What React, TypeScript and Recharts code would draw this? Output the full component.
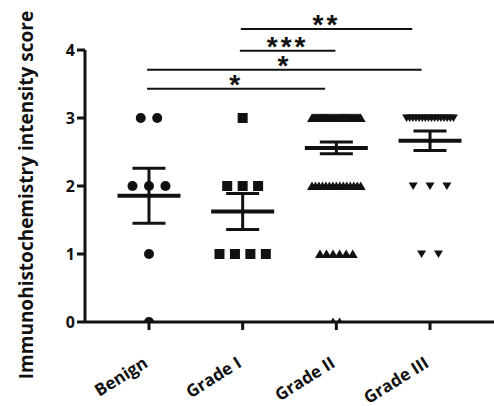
import React from 'react'
import { ScatterChart, Scatter, XAxis, YAxis, ErrorBar, ReferenceLine, Label } from 'recharts'

// groups along the x axis (positions 1..4)
const groups = ['Benign', 'Grade I', 'Grade II', 'Grade III']
const groupPos = [1, 2, 3, 4]

// number of cases with score 0, 1, 2, 3 in each group
const benignCounts = [1, 1, 3, 2]
const gradeICounts = [0, 4, 3, 1]
const gradeIICounts = [2, 6, 15, 52]
const gradeIIICounts = [0, 2, 3, 16]

// horizontal spreading of tied points (x units): step between points, widest row
const spreadStep = [0.176, 0.165, 0.07, 0.18]
const spreadMax = [1, 1, 0.52, 0.5]

const yTicks = [0, 1, 2, 3, 4]

// significance brackets: [x from, x to, y level, stars]
const brackets: [number, number, number, string][] = [
  [1.98, 3.81, 4.31, '**'],
  [1.97, 2.99, 3.99, '***'],
  [0.98, 3.91, 3.71, '*'],
  [0.98, 2.88, 3.43, '*'],
]

const INK = '#111'
const FONT = '"Open Sans", "Liberation Sans", sans-serif'

type Pt = { x: number; y: number }

function spreadGroup(counts: number[], gi: number): Pt[] {
  const pts: Pt[] = []
  counts.forEach((n, score) => {
    const s = n > 1 ? Math.min(spreadStep[gi], spreadMax[gi] / (n - 1)) : 0
    for (let i = 0; i < n; i++) pts.push({ x: groupPos[gi] + (i - (n - 1) / 2) * s, y: score })
  })
  return pts
}

function meanSem(counts: number[], gi: number) {
  const vals: number[] = []
  counts.forEach((n, score) => { for (let i = 0; i < n; i++) vals.push(score) })
  const m = vals.reduce((a, b) => a + b, 0) / vals.length
  const sd = Math.sqrt(vals.reduce((a, b) => a + (b - m) ** 2, 0) / (vals.length - 1))
  return { x: groupPos[gi], y: m, err: sd / Math.sqrt(vals.length) }
}

const allCounts = [benignCounts, gradeICounts, gradeIICounts, gradeIIICounts]
const pointSets = allCounts.map((c, i) => spreadGroup(c, i))
const summary = allCounts.map((c, i) => meanSem(c, i))

const Dot = (p: any) => <circle cx={p.cx} cy={p.cy} r={5} fill={INK} />
const Sq = (p: any) => <rect x={p.cx - 5} y={p.cy - 5} width={10} height={10} fill={INK} />
const TriUp = (p: any) => (
  <polygon points={`${p.cx - 5},${p.cy + 4} ${p.cx + 5},${p.cy + 4} ${p.cx},${p.cy - 4.5}`} fill={INK} />
)
const TriDown = (p: any) => (
  <polygon points={`${p.cx - 4.5},${p.cy - 3.5} ${p.cx + 4.5},${p.cy - 3.5} ${p.cx},${p.cy + 4}`} fill={INK} />
)
const shapes = [Dot, Sq, TriUp, TriDown]

const MeanLine = (p: any) => (
  <line x1={p.cx - 31.5} x2={p.cx + 31.5} y1={p.cy} y2={p.cy} stroke={INK} strokeWidth={4} />
)

const XTick = (props: any) => {
  const { x, y, payload } = props
  return (
    <g transform={`translate(${x},${y + 34})`}>
      <text textAnchor="end" transform="rotate(-32)" fontFamily={FONT} fontWeight={700} fontSize={17} fill={INK}>
        {groups[groupPos.indexOf(payload.value)]}
      </text>
    </g>
  )
}

const YTitle = (props: any) => {
  const vb = props.viewBox
  const cx = 33
  const cy = vb.y + vb.height / 2 + 9
  return (
    <text x={cx} y={cy} transform={`rotate(-90 ${cx} ${cy})`} textAnchor="middle"
      fontFamily={FONT} fontWeight={700} fontSize={19} fill={INK}>
      Immunohistochemistry intensity score
    </text>
  )
}

export default function App() {
  return (
    <div style={{ position: 'absolute', left: 0, top: 0, background: '#fff' }}>
      <ScatterChart width={494} height={406} margin={{ top: 50, right: 0, bottom: 0, left: 0 }}>
        <XAxis type="number" dataKey="x" domain={[0.317, 4.683]} ticks={groupPos} allowDataOverflow
          height={84} tick={<XTick />} tickSize={8} tickMargin={2}
          axisLine={{ stroke: INK, strokeWidth: 3 }} tickLine={{ stroke: INK, strokeWidth: 3 }} />
        <YAxis type="number" dataKey="y" domain={[0, 4]} ticks={yTicks} width={85} allowDataOverflow
          tickSize={8} tickMargin={2}
          tick={{ fontFamily: FONT, fontWeight: 700, fontSize: 16, fill: INK }}
          axisLine={{ stroke: INK, strokeWidth: 3 }} tickLine={{ stroke: INK, strokeWidth: 3 }}>
          <Label content={<YTitle />} />
        </YAxis>
        {pointSets.map((pts, i) => (
          <Scatter key={groups[i]} data={pts} shape={shapes[i]} isAnimationActive={false} />
        ))}
        <Scatter data={summary} shape={MeanLine} isAnimationActive={false}>
          <ErrorBar dataKey="err" direction="y" width={16.5} stroke={INK} strokeWidth={3} isAnimationActive={false} />
        </Scatter>
        {brackets.map(([x1, x2, y, stars], i) => (
          <ReferenceLine key={i} segment={[{ x: x1, y }, { x: x2, y }]} ifOverflow="visible" stroke={INK} strokeWidth={2}
            label={{ value: stars, position: 'top', offset: -5, fontFamily: '"Liberation Sans", sans-serif', fontWeight: 700, fontSize: 28, fill: INK, letterSpacing: 3 }} />
        ))}
      </ScatterChart>
    </div>
  )
}
